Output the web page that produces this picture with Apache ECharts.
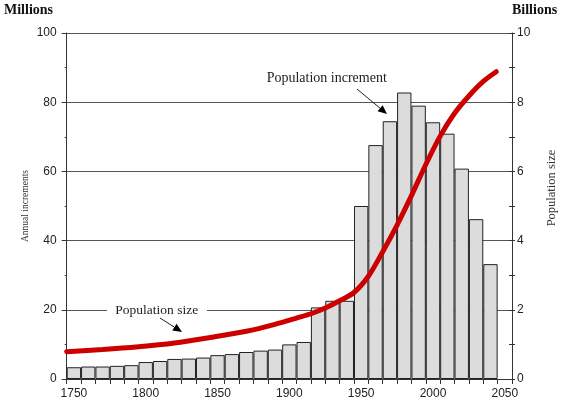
<!DOCTYPE html>
<html><head><meta charset="utf-8">
<script src="https://cdn.jsdelivr.net/npm/echarts@6/dist/echarts.min.js"></script>
<style>html,body{margin:0;padding:0;background:#fff}#c{width:564px;height:406px}</style>
</head><body><div id="c"></div>
<script>
// Decade categories (last slot 2050 is empty)
const categories = ['1750','1760','1770','1780','1790','1800','1810','1820','1830','1840',
  '1850','1860','1870','1880','1890','1900','1910','1920','1930','1940',
  '1950','1960','1970','1980','1990','2000','2010','2020','2030','2040','2050'];
// Annual increments, millions
const increments = [3.4,3.6,3.6,3.8,4.0,4.9,5.2,5.8,5.9,6.2,
  6.9,7.2,7.8,8.2,8.5,10.0,10.7,20.7,22.6,22.6,
  50.0,67.6,74.5,82.8,79.0,74.2,70.9,60.8,46.2,33.2,null];
// Population size, billions
const popYears = [1745,1770,1795,1820,1845,1870,1890,1905,1916,1925,1935,1945,1955,1965,1975,1985,1995,2005,2015,2025,2035,2044];
const popSize  = [0.79,0.85,0.93,1.04,1.20,1.38,1.58,1.76,1.90,2.05,2.26,2.50,2.97,3.68,4.45,5.30,6.20,7.02,7.68,8.18,8.60,8.88];
const leftTicks = [0,20,40,60,80,100];
const rightTicks = [0,2,4,6,8,10];

const SERIF = '"Liberation Serif","Times New Roman",serif';
const SANS = '"Liberation Sans",Arial,sans-serif';

function arrow(x1,y1,x2,y2){
  const dx=x2-x1, dy=y2-y1, L=Math.hypot(dx,dy), ux=dx/L, uy=dy/L;
  const hl=9, hw=4;
  const bx=x2-ux*hl, by=y2-uy*hl;
  return [
    {type:'line', z:20, shape:{x1:x1,y1:y1,x2:bx,y2:by}, style:{stroke:'#222',lineWidth:1}},
    {type:'polygon', z:20, shape:{points:[[x2,y2],[bx-uy*hw,by+ux*hw],[bx+uy*hw,by-ux*hw]]}, style:{fill:'#000'}}
  ];
}

const chart = echarts.init(document.getElementById('c'));
const pairs = popYears.map((y,i)=>[y,popSize[i]]);
chart.setOption({
  animation:false,
  backgroundColor:'#fff',
  grid:{left:66.7,right:52,top:33,bottom:27,containLabel:false},
  xAxis:[
    {type:'category', data:categories, boundaryGap:true,
     axisLine:{lineStyle:{color:'#333',width:1}},
     axisTick:{show:true, interval:0, length:5, lineStyle:{color:'#333'}},
     axisLabel:{interval:4, margin:9, color:'#222', fontFamily:SANS, fontSize:12},
     splitLine:{show:false}},
    {type:'value', min:1745, max:2055, show:false}
  ],
  yAxis:[
    {type:'value', position:'left', min:0, max:100, interval:20,
     axisLine:{show:true, lineStyle:{color:'#333'}},
     axisTick:{show:true, length:5, lineStyle:{color:'#333'}},
     minorTick:{show:true, splitNumber:2, length:2, lineStyle:{color:'#333'}},
     axisLabel:{margin:10, color:'#222', fontFamily:SANS, fontSize:12},
     splitLine:{show:true, lineStyle:{color:'#555',width:1}}},
    {type:'value', position:'right', min:0, max:10, interval:2,
     axisLine:{show:true, lineStyle:{color:'#333'}},
     axisTick:{show:true, length:3, lineStyle:{color:'#333'}},
     minorTick:{show:true, splitNumber:2, length:3, lineStyle:{color:'#333'}},
     axisLabel:{margin:5, color:'#222', fontFamily:SANS, fontSize:12},
     splitLine:{show:false}},
    {type:'value', position:'right', min:0, max:10, interval:2,
     axisLine:{show:false},
     axisTick:{show:true, inside:true, length:3, lineStyle:{color:'#333'}},
     minorTick:{show:true, splitNumber:2, length:3, lineStyle:{color:'#333'}},
     axisLabel:{show:false}, splitLine:{show:false}}
  ],
  series:[
    {type:'bar', data:increments, xAxisIndex:0, yAxisIndex:0,
     barCategoryGap:'0%', barGap:'0%',
     itemStyle:{color:'#dcdcdc', borderColor:'#222', borderWidth:1}},
    {type:'line', data:pairs, xAxisIndex:1, yAxisIndex:1, smooth:0.3,
     showSymbol:false, symbol:'none', z:5,
     lineStyle:{color:'#cc0000', width:5, cap:'round'}}
  ],
  graphic:[
    {type:'text', x:4, y:10, z:20, style:{text:'Millions', font:'bold 14px '+SERIF, fill:'#111', verticalAlign:'middle'}},
    {type:'text', x:512, y:10, z:20, style:{text:'Billions', font:'bold 14px '+SERIF, fill:'#111', verticalAlign:'middle'}},
    {type:'text', x:25, y:206, rotation:Math.PI/2, z:20, style:{text:'Annual increments', font:'9.5px '+SERIF, fill:'#333', align:'center', verticalAlign:'middle'}},
    {type:'text', x:552, y:188, rotation:Math.PI/2, z:20, style:{text:'Population size', font:'12.5px '+SERIF, fill:'#333', align:'center', verticalAlign:'middle'}},
    {type:'text', x:326.7, y:78, z:20, style:{text:'Population increment', font:'14px '+SERIF, fill:'#222', align:'center', verticalAlign:'middle'}},
    {type:'rect', z:15, shape:{x:107, y:302, width:100, height:16}, style:{fill:'#fff'}},
    {type:'text', x:156.7, y:310, z:20, style:{text:'Population size', font:'13.5px '+SERIF, fill:'#222', align:'center', verticalAlign:'middle'}}
  ].concat(arrow(357,89,387,114)).concat(arrow(160,318,182,332))
});
</script>
</body></html>
